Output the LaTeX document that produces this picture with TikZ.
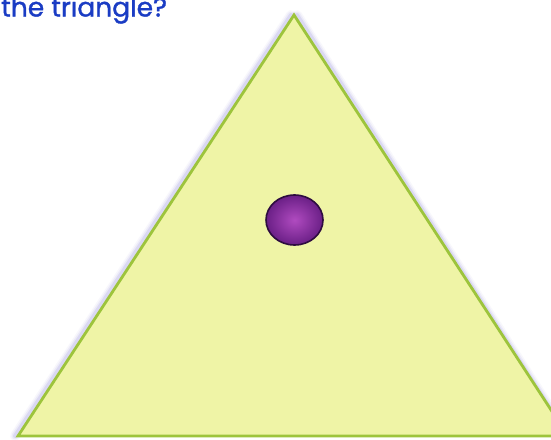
\documentclass[tikz,border=0pt]{standalone}
\usepackage{fontspec}
\usetikzlibrary{shapes.geometric}
\newfontfamily\titlefont{Poppins}[FakeBold=1.2]
\begin{document}
\begin{tikzpicture}[x=1pt,y=-1pt,
  tri/.style={fill=triFill,draw=triEdge,line width=2.8pt,line join=miter},
  glow/.style={draw=shadowC,line cap=round,line join=round},
  ball/.style={ellipse,draw=ballEdge,line width=1.6pt,inner color=ballLight,outer color=ballDark,minimum width=57pt,minimum height=50pt,inner sep=0pt},
  title/.style={anchor=base west,inner sep=0pt,text=titleC,font=\titlefont\fontsize{26.5}{26.5}\selectfont}]
\definecolor{triFill}{HTML}{EFF4A6}
\definecolor{triEdge}{HTML}{9DC43C}
\definecolor{shadowC}{HTML}{8C86D8}
\definecolor{ballLight}{HTML}{B04BC0}
\definecolor{ballDark}{HTML}{6A1F86}
\definecolor{ballEdge}{HTML}{2E0C40}
\definecolor{titleC}{HTML}{1A3CC4}
\useasboundingbox (0,0) rectangle (551,439);
\begin{scope}
\clip (0,0) rectangle (551,439);
\fill[white] (0,0) rectangle (551,439);
% soft shadow along the edges
\foreach \w/\o in {10/0.06,7/0.1,4/0.18}{
  \draw[glow,line width=\w pt,opacity=\o] (291,15) -- (15,436);
  \draw[glow,line width=\w pt,opacity=\o] (297,15) -- (568,436);
}
\coordinate (apex) at (294,15);
\coordinate (bl) at (18,436);
\coordinate (br) at (568,436);
\draw[tri] (apex) -- (bl) -- (br) -- cycle;
\node[ball] (dot) at (294.5,220) {};
\node[title] (q) at (1,16.5) {the triangle?};
\end{scope}
\end{tikzpicture}
\end{document}
